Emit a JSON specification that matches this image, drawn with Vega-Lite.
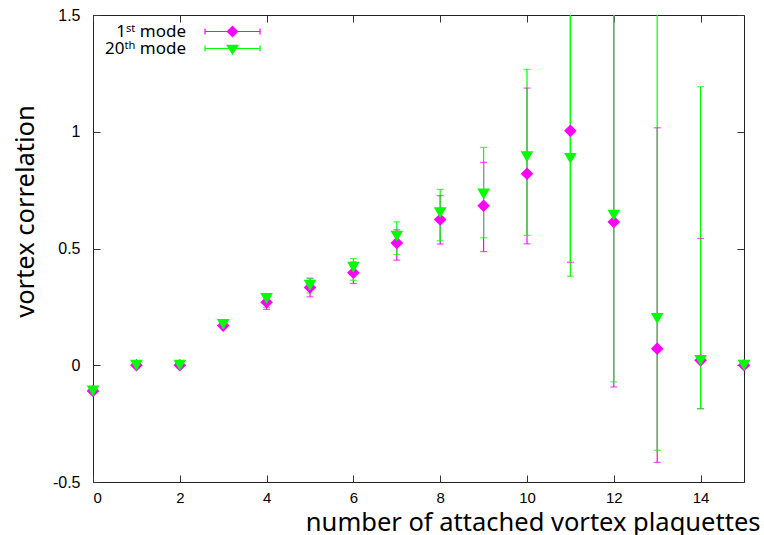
{
  "$schema": "https://vega.github.io/schema/vega-lite/v6.json",
  "width": 651,
  "height": 467,
  "autosize": {"type": "none"},
  "padding": {"left": 93, "top": 15, "right": 20, "bottom": 53},
  "background": "white",
  "config": {
    "view": {"stroke": "#222", "strokeWidth": 1},
    "axis": {"grid": false, "domain": false, "tickColor": "#333", "tickWidth": 1},
    "legend": {"labelFontSize": 17, "labelFont": "Noto Sans", "labelColor": "#000"}
  },
  "data": {
    "values": [
      {"n": 0, "mode": "1st", "v": -0.11, "lo": -0.12, "hi": -0.1},
      {"n": 1, "mode": "1st", "v": 0.0, "lo": -0.005, "hi": 0.005},
      {"n": 2, "mode": "1st", "v": 0.0, "lo": -0.005, "hi": 0.005},
      {"n": 3, "mode": "1st", "v": 0.17, "lo": 0.16, "hi": 0.18},
      {"n": 4, "mode": "1st", "v": 0.27, "lo": 0.239, "hi": 0.301},
      {"n": 5, "mode": "1st", "v": 0.333, "lo": 0.293, "hi": 0.373},
      {"n": 6, "mode": "1st", "v": 0.396, "lo": 0.35, "hi": 0.442},
      {"n": 7, "mode": "1st", "v": 0.524, "lo": 0.45, "hi": 0.58},
      {"n": 8, "mode": "1st", "v": 0.624, "lo": 0.519, "hi": 0.726},
      {"n": 9, "mode": "1st", "v": 0.683, "lo": 0.487, "hi": 0.869},
      {"n": 10, "mode": "1st", "v": 0.82, "lo": 0.52, "hi": 1.187},
      {"n": 11, "mode": "1st", "v": 1.004, "lo": 0.441, "hi": 1.6},
      {"n": 12, "mode": "1st", "v": 0.614, "lo": -0.093, "hi": 1.6},
      {"n": 13, "mode": "1st", "v": 0.071, "lo": -0.416, "hi": 1.017},
      {"n": 14, "mode": "1st", "v": 0.021, "lo": -0.186, "hi": 0.543},
      {"n": 15, "mode": "1st", "v": 0.0, "lo": -0.005, "hi": 0.005},
      {"n": 0, "mode": "20th", "v": -0.11, "lo": -0.12, "hi": -0.1},
      {"n": 1, "mode": "20th", "v": 0.0, "lo": -0.005, "hi": 0.005},
      {"n": 2, "mode": "20th", "v": 0.0, "lo": -0.005, "hi": 0.005},
      {"n": 3, "mode": "20th", "v": 0.175, "lo": 0.165, "hi": 0.185},
      {"n": 4, "mode": "20th", "v": 0.286, "lo": 0.247, "hi": 0.303},
      {"n": 5, "mode": "20th", "v": 0.343, "lo": 0.31, "hi": 0.371},
      {"n": 6, "mode": "20th", "v": 0.42, "lo": 0.364, "hi": 0.457},
      {"n": 7, "mode": "20th", "v": 0.553, "lo": 0.474, "hi": 0.614},
      {"n": 8, "mode": "20th", "v": 0.653, "lo": 0.533, "hi": 0.753},
      {"n": 9, "mode": "20th", "v": 0.733, "lo": 0.546, "hi": 0.933},
      {"n": 10, "mode": "20th", "v": 0.893, "lo": 0.556, "hi": 1.267},
      {"n": 11, "mode": "20th", "v": 0.886, "lo": 0.381, "hi": 1.6},
      {"n": 12, "mode": "20th", "v": 0.643, "lo": -0.071, "hi": 1.6},
      {"n": 13, "mode": "20th", "v": 0.2, "lo": -0.364, "hi": 1.6},
      {"n": 14, "mode": "20th", "v": 0.02, "lo": -0.186, "hi": 1.193},
      {"n": 15, "mode": "20th", "v": 0.0, "lo": -0.005, "hi": 0.005}
    ]
  },
  "resolve": {"axis": {"x": "independent", "y": "independent"}, "scale": {"color": "independent", "shape": "independent"}},
  "layer": [
    {
      "mark": {"type": "rule", "clip": true, "strokeWidth": 1.2},
      "encoding": {
        "x": {"field": "n", "type": "quantitative", "scale": {"domain": [0, 15], "nice": false, "zero": false},
          "axis": {"orient": "bottom", "values": [0, 2, 4, 6, 8, 10, 12, 14], "tickSize": -7, "labelPadding": 15,
            "labelFont": "Liberation Sans Narrow, Liberation Sans, sans-serif", "labelFontSize": 15, "labelColor": "#000",
            "labelExpr": "'' + datum.value",
            "title": "number of attached vortex plaquettes", "titleFont": "Noto Sans", "titleFontSize": 25.5,
            "titleFontWeight": "normal", "titleColor": "#000", "titleX": 667, "titleY": 48, "titleAlign": "right",
            "titleBaseline": "alphabetic"}},
        "y": {"field": "lo", "type": "quantitative", "scale": {"domain": [-0.5, 1.5], "nice": false, "zero": false},
          "axis": {"orient": "left", "values": [-0.5, 0, 0.5, 1, 1.5], "tickSize": -7, "labelPadding": 20,
            "labelFont": "Liberation Sans", "labelFontSize": 16, "labelColor": "#000",
            "labelExpr": "'' + datum.value",
            "title": "vortex correlation", "titleFont": "Noto Sans", "titleFontSize": 25.5,
            "titleFontWeight": "normal", "titleColor": "#000", "titleX": -60, "titleY": 196, "titleAlign": "center",
            "titleBaseline": "alphabetic", "titleAngle": -90}},
        "y2": {"field": "hi"},
        "color": {"field": "mode", "type": "nominal", "scale": {"domain": ["1st", "20th"], "range": ["#ff00ff", "#00ff00"]}, "legend": null}
      }
    },
    {
      "mark": {"type": "tick", "orient": "horizontal", "clip": true, "size": 7, "thickness": 1.2},
      "encoding": {
        "x": {"field": "n", "type": "quantitative",
          "axis": {"orient": "top", "values": [0, 2, 4, 6, 8, 10, 12, 14], "tickSize": -7, "labels": false, "title": null}},
        "y": {"field": "lo", "type": "quantitative",
          "axis": {"orient": "right", "values": [-0.5, 0, 0.5, 1, 1.5], "tickSize": -7, "labels": false, "title": null}},
        "color": {"field": "mode", "type": "nominal", "scale": {"domain": ["1st", "20th"], "range": ["#ff00ff", "#00ff00"]}, "legend": null}
      }
    },
    {
      "mark": {"type": "tick", "orient": "horizontal", "clip": true, "size": 7, "thickness": 1.2},
      "encoding": {
        "x": {"field": "n", "type": "quantitative", "axis": null},
        "y": {"field": "hi", "type": "quantitative", "axis": null},
        "color": {"field": "mode", "type": "nominal", "scale": {"domain": ["1st", "20th"], "range": ["#ff00ff", "#00ff00"]}, "legend": null}
      }
    },
    {
      "mark": {"type": "point", "filled": true, "size": 160, "opacity": 1},
      "encoding": {
        "x": {"field": "n", "type": "quantitative", "axis": null},
        "y": {"field": "v", "type": "quantitative", "axis": null},
        "shape": {"field": "mode", "type": "nominal", "scale": {"domain": ["1st", "20th"], "range": ["diamond", "triangle-down"]}, "legend": null},
        "color": {"field": "mode", "type": "nominal", "scale": {"domain": ["1st", "20th"], "range": ["#ff00ff", "#00ff00"]}, "legend": null}
      }
    },
    {
      "transform": [{"filter": "datum.n < 0"}],
      "mark": {"type": "point", "filled": true, "size": 100, "opacity": 1},
      "encoding": {
        "x": {"field": "n", "type": "quantitative", "axis": null},
        "y": {"field": "v", "type": "quantitative", "axis": null},
        "shape": {"field": "mode", "type": "nominal",
          "scale": {"domain": ["1st", "20th"], "range": [
            "M-5.5,-0.12H5.5V0.12H-5.5ZM-5.62,-0.6H-5.38V0.6H-5.62ZM5.38,-0.6H5.62V0.6H5.38ZM0,-1.2L1.2,0L0,1.2L-1.2,0Z",
            "M-5.5,-0.12H5.5V0.12H-5.5ZM-5.62,-0.6H-5.38V0.6H-5.62ZM5.38,-0.6H5.62V0.6H5.38ZM-1.3,-0.75L1.3,-0.75L0,1.3Z"]},
          "legend": {"title": null}},
        "color": {"field": "mode", "type": "nominal", "scale": {"domain": ["1st", "20th"], "range": ["#ff00ff", "#00ff00"]},
          "legend": {"orient": "none", "legendX": 131, "legendY": 8, "title": null, "symbolSize": 100,
            "rowPadding": -4, "padding": 0, "labelAlign": "right", "labelOffset": -55, "labelFont": "Noto Sans",
            "labelFontSize": 17, "labelColor": "#000", "labelBaseline": "middle", "labelLimit": 300,
            "symbolOpacity": 1, "symbolStrokeWidth": 0,
            "labelExpr": "datum.value == '1st' ? '1ˢᵗ mode' : '20ᵗʰ mode'"}}
      }
    }
  ]
}
